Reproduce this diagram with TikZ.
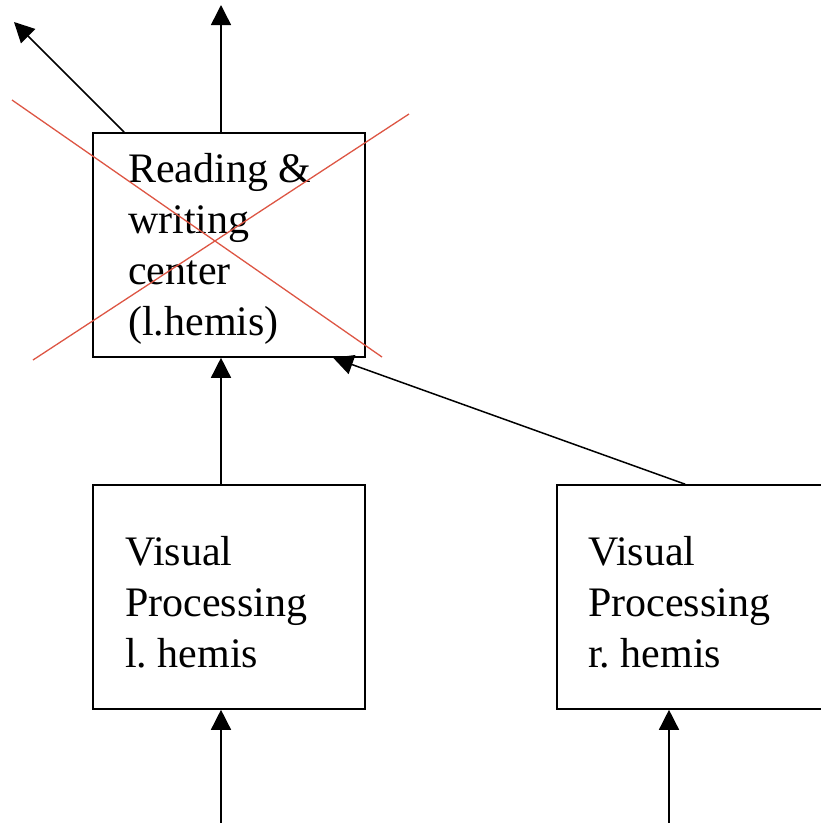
\documentclass[tikz,border=0pt]{standalone}
\usepackage{fontspec}
\setmainfont{Liberation Serif}
\usetikzlibrary{arrows.meta}
\definecolor{crossred}{RGB}{221,86,68}
\frenchspacing
\begin{document}
\begin{tikzpicture}[x=1pt,y=-1pt,
  box/.style={draw,line width=1.6pt,minimum width=272pt,minimum height=224pt,inner sep=0pt},
  arr/.style={line width=1.5pt,-{Triangle[length=20pt,width=20pt]}},
  lbl/.style={anchor=base west,inner sep=0pt,font=\fontsize{42}{51}\selectfont},
  cross/.style={crossred,line width=1.3pt}]
\useasboundingbox (0,0) rectangle (821,823);
\clip (0,0) rectangle (821,823);
% boxes
\node[box] (rw) at (229,245) {};
\node[box] (vl) at (229,597) {};
\node[box] (vr) at (693,597) {};
% texts
\node[lbl] (t1) at (128,182) {Reading \&};
\node[lbl] (t2) at (128,233) {writing};
\node[lbl] (t3) at (128,284) {center};
\node[lbl] (t4) at (128,335) {(l.hemis)};
\node[lbl] (l1) at (125,565) {Visual};
\node[lbl] (l2) at (125,616) {Processing};
\node[lbl] (l3) at (125,667) {l.\ hemis};
\node[lbl] (r1) at (588,565) {Visual};
\node[lbl] (r2) at (588,616) {Processing};
\node[lbl] (r3) at (588,667) {r.\ hemis};
% free ends
\coordinate (upA) at (221,5);
\coordinate (upB) at (14,22);
\coordinate (inL) at (221,823);
\coordinate (inR) at (669,823);
% connectors
\draw[arr] (rw.north -| upA) -- (upA);
\draw[arr] ([xshift=32pt]rw.north west) -- (upB);
\draw[arr] (vl.north -| upA) -- (rw.south -| upA);
\draw[arr] ([xshift=129pt]vr.north west) -- ([xshift=241pt]rw.south west);
\draw[arr] (inL) -- (vl.south -| inL);
\draw[arr] (inR) -- (vr.south -| inR);
% red cross
\coordinate (c1) at (12,100);
\coordinate (c2) at (382,357);
\coordinate (c3) at (33,360);
\coordinate (c4) at (409,114);
\draw[cross] (c1) -- (c2);
\draw[cross] (c3) -- (c4);
\end{tikzpicture}
\end{document}
